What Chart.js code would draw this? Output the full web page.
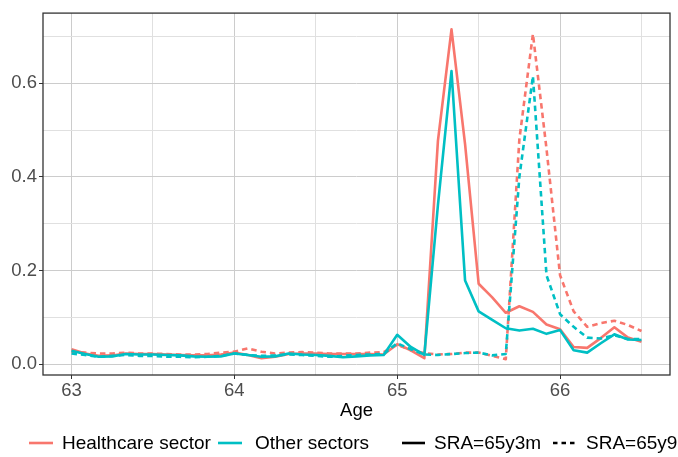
<!DOCTYPE html>
<html>
<head>
<meta charset="utf-8">
<script src="https://cdn.jsdelivr.net/npm/chart.js@4"></script>
<style>
  html, body { margin: 0; padding: 0; background: #fff; }
  #wrap { width: 678px; height: 457px; }
</style>
</head>
<body>
<div id="wrap"><canvas id="myChart" width="678" height="457"></canvas></div>
<script>
// months after the 63rd birthday
const ageMonths = [0,1,2,3,4,5,6,7,8,9,10,11,12,13,14,15,16,17,18,19,20,
                   21,22,23,24,25,26,27,28,29,30,31,32,33,34,35,36,37,38,39,40,41,42];

// hazard by month, SRA = 65y3m
const healthEarly = [0.032,0.023,0.018,0.019,0.023,0.022,0.022,0.021,0.020,0.019,0.019,
                     0.021,0.025,0.020,0.013,0.016,0.022,0.023,0.023,0.022,0.022,0.022,
                     0.022,0.021,0.043,0.030,0.013,0.477,0.715,0.470,0.172,0.143,0.110,
                     0.124,0.112,0.085,0.075,0.037,0.035,0.056,0.079,0.057,0.048];
const otherEarly  = [0.029,0.022,0.016,0.017,0.022,0.021,0.021,0.020,0.019,0.017,0.016,
                     0.017,0.023,0.020,0.016,0.017,0.023,0.021,0.020,0.018,0.015,0.017,
                     0.019,0.020,0.063,0.037,0.020,0.340,0.626,0.179,0.113,0.095,0.077,
                     0.072,0.076,0.065,0.073,0.030,0.025,0.045,0.064,0.053,0.052];

// hazard by month, SRA = 65y9m
const healthLate  = [0.027,0.025,0.023,0.023,0.025,0.023,0.023,0.022,0.021,0.021,0.022,
                     0.025,0.027,0.034,0.027,0.023,0.025,0.026,0.025,0.023,0.023,0.023,
                     0.025,0.026,0.042,0.030,0.024,0.021,0.022,0.025,0.025,0.018,0.011,
                     0.480,0.705,0.460,0.190,0.113,0.080,0.088,0.093,0.084,0.071];
const otherLate   = [0.023,0.020,0.016,0.018,0.020,0.018,0.018,0.016,0.016,0.015,0.016,
                     0.018,0.023,0.020,0.018,0.019,0.021,0.020,0.018,0.016,0.018,0.020,
                     0.021,0.022,0.045,0.032,0.021,0.020,0.022,0.024,0.025,0.019,0.022,
                     0.400,0.615,0.190,0.107,0.080,0.057,0.055,0.062,0.054,0.054];

const xTicks = [63, 63.5, 64, 64.5, 65, 65.5, 66, 66.5];
const yTicks = [0, 0.1, 0.2, 0.3, 0.4, 0.5, 0.6, 0.7];

const sectorNames = ['Healthcare sector', 'Other sectors'];
const sraNames = ['SRA=65y3m', 'SRA=65y9m'];

const RED = '#F8766D';
const CYAN = '#00BFC4';
const DASH = [5.5, 4];
const FONT = '"Liberation Sans", Arial, sans-serif';
const FS = 18.5;
const LEGEND_FS = 19;

const ages = ageMonths.map(m => 63 + m / 12);
function pts(vals){ return vals.map((v, i) => ({x: ages[i], y: v})); }

function line(label, vals, color, dashed){
    return {
        label: label,
        data: pts(vals),
        borderColor: color,
        borderWidth: 2.6,
        borderDash: dashed ? DASH : [],
        pointRadius: 0,
        tension: 0,
        fill: false,
        borderJoinStyle: 'round'
    };
}

// first dataset ends up on top
const datasets = [
    line('other late', otherLate, CYAN, true),
    line('other early', otherEarly, CYAN, false),
    line('health late', healthLate, RED, true),
    line('health early', healthEarly, RED, false)
];

const panelBox = {
    id: 'panelBox',
    afterDraw(chart){
        const {ctx, chartArea: a} = chart;
        ctx.save();
        ctx.strokeStyle = '#333333';
        ctx.lineWidth = 1.3;
        ctx.strokeRect(a.left, a.top, a.right - a.left, a.bottom - a.top);

        // legend row
        const y = 443;
        ctx.font = LEGEND_FS + 'px ' + FONT;
        ctx.textBaseline = 'middle';
        ctx.fillStyle = '#000';
        ctx.lineWidth = 2.6;
        const items = [
            {x0: 29, x1: 53, tx: 62, color: RED, dash: [], text: sectorNames[0]},
            {x0: 218, x1: 242, tx: 255, color: CYAN, dash: [], text: sectorNames[1]},
            {x0: 402, x1: 425, tx: 434, color: '#000', dash: [], text: sraNames[0]},
            {x0: 553, x1: 577, tx: 586, color: '#000', dash: [4.5, 4], text: sraNames[1]}
        ];
        items.forEach(it => {
            ctx.beginPath();
            ctx.setLineDash(it.dash);
            ctx.strokeStyle = it.color;
            ctx.moveTo(it.x0, y);
            ctx.lineTo(it.x1, y);
            ctx.stroke();
            ctx.setLineDash([]);
            ctx.fillText(it.text, it.tx, y + 1);
        });
        ctx.restore();
    }
};

const ctx = document.getElementById('myChart').getContext('2d');
const myChart = new Chart(ctx, {
    type: 'line',
    data: { datasets: datasets },
    options: {
        responsive: false,
        animation: false,
        layout: { padding: { top: 12, right: 8, left: 0, bottom: 35 } },
        plugins: {
            legend: { display: false },
            tooltip: { enabled: false }
        },
        scales: {
            x: {
                type: 'linear',
                min: 62.825,
                max: 66.675,
                afterBuildTicks: s => { s.ticks = xTicks.map(v => ({value: v})); },
                afterFit: s => { s.height = 47; },
                ticks: {
                    autoSkip: false,
                    maxRotation: 0,
                    padding: 1,
                    color: '#4d4d4d',
                    font: { family: FONT, size: FS },
                    callback: v => Number.isInteger(v) ? String(v) : ''
                },
                grid: {
                    color: c => Number.isInteger(c.tick.value) ? '#cccccc' : '#e0e0e0',
                    tickColor: c => Number.isInteger(c.tick.value) ? '#333333' : 'rgba(0,0,0,0)',
                    tickLength: 4,
                    lineWidth: 1
                },
                border: { display: false },
                title: {
                    display: true,
                    text: 'Age',
                    color: '#000',
                    font: { family: FONT, size: FS },
                    padding: { top: 0, bottom: 0 }
                }
            },
            y: {
                type: 'linear',
                min: -0.0228,
                max: 0.7496,
                afterBuildTicks: s => { s.ticks = yTicks.map(v => ({value: v})); },
                afterFit: s => { s.width = 43; },
                ticks: {
                    padding: 2,
                    color: '#4d4d4d',
                    font: { family: FONT, size: FS },
                    callback: (v, i) => i % 2 === 0 ? v.toFixed(1) : ''
                },
                grid: {
                    color: c => c.index % 2 === 0 ? '#cccccc' : '#e0e0e0',
                    tickColor: c => c.index % 2 === 0 ? '#333333' : 'rgba(0,0,0,0)',
                    tickLength: 4,
                    lineWidth: 1
                },
                border: { display: false }
            }
        }
    },
    plugins: [panelBox]
});
</script>
</body>
</html>
